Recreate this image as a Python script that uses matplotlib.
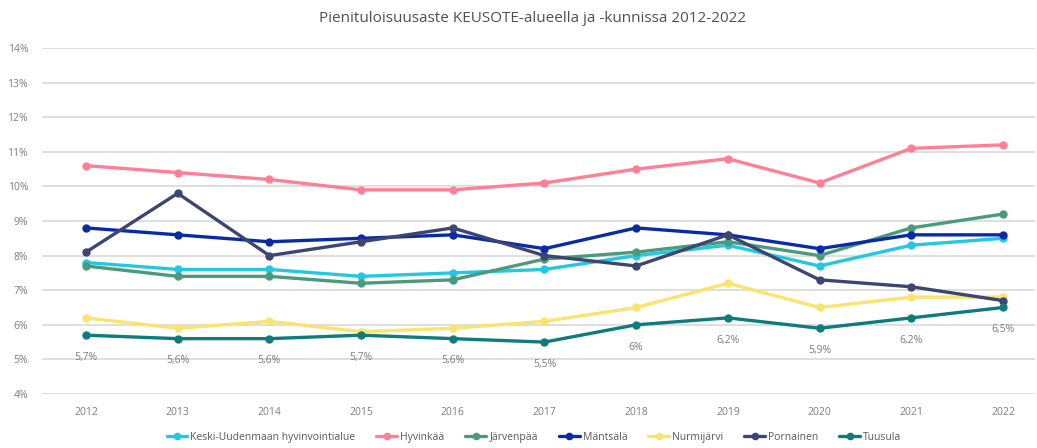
import matplotlib
matplotlib.use("Agg")
import matplotlib.pyplot as plt

years = [2012, 2013, 2014, 2015, 2016, 2017, 2018, 2019, 2020, 2021, 2022]
series_names = ["Keski-Uudenmaan hyvinvointialue", "Hyvinkää", "Järvenpää", "Mäntsälä",
                "Nurmijärvi", "Pornainen", "Tuusula"]
keski = [7.8, 7.6, 7.6, 7.4, 7.5, 7.6, 8.0, 8.3, 7.7, 8.3, 8.5]
hyvinkaa = [10.6, 10.4, 10.2, 9.9, 9.9, 10.1, 10.5, 10.8, 10.1, 11.1, 11.2]
jarvenpaa = [7.7, 7.4, 7.4, 7.2, 7.3, 7.9, 8.1, 8.4, 8.0, 8.8, 9.2]
mantsala = [8.8, 8.6, 8.4, 8.5, 8.6, 8.2, 8.8, 8.6, 8.2, 8.6, 8.6]
nurmijarvi = [6.2, 5.9, 6.1, 5.8, 5.9, 6.1, 6.5, 7.2, 6.5, 6.8, 6.8]
pornainen = [8.1, 9.8, 8.0, 8.4, 8.8, 8.0, 7.7, 8.6, 7.3, 7.1, 6.7]
tuusula = [5.7, 5.6, 5.6, 5.7, 5.6, 5.5, 6.0, 6.2, 5.9, 6.2, 6.5]
tuusula_labels = ["5,7%", "5,6%", "5,6%", "5,7%", "5,6%", "5,5%", "6%", "6,2%", "5,9%", "6,2%", "6,5%"]
y_ticks = [4, 5, 6, 7, 8, 9, 10, 11, 12, 13, 14]

colors = ["#22C8E2", "#FF7F97", "#4B9A7C", "#0A2BA6", "#F8E46E", "#3D4671", "#0E7C7C"]
data = [keski, hyvinkaa, jarvenpaa, mantsala, nurmijarvi, pornainen, tuusula]

plt.rcParams['font.family'] = ['Open Sans', 'DejaVu Sans']

fig = plt.figure(figsize=(10.37, 4.48), dpi=100)
ax = fig.add_axes([42/1037, 1-394/448, (1035-42)/1037, 346/448])

for name, vals, c in zip(series_names, data, colors):
    ax.plot(years, vals, color=c, lw=2.4, marker="o", ms=5, label=name,
            solid_capstyle="round")

for x, v, t in zip(years, tuusula, tuusula_labels):
    ax.annotate(t, (x, v), xytext=(0, -16), textcoords="offset points",
                ha="center", va="center", fontsize=7.5, color="#7F7F7F")

ax.set_ylim(4, 14)
ax.set_xlim(2011.52, 2022.35)
ax.set_yticks(y_ticks)
ax.set_yticklabels([f"{v}%" for v in y_ticks])
ax.set_xticks(years)
ax.set_xticklabels([str(y) for y in years])
ax.tick_params(axis="both", length=0, labelsize=7.5, labelcolor="#7F7F7F")
ax.tick_params(axis="y", pad=10)
ax.tick_params(axis="x", pad=9)
ax.grid(axis="y", color="#D9D9D9", lw=1.2)
ax.set_axisbelow(True)
for s in ax.spines.values():
    s.set_visible(False)

fig.text(533/1037, 1-18/448, "Pienituloisuusaste KEUSOTE-alueella ja -kunnissa 2012-2022",
         ha="center", va="center", fontsize=11, color="#505050", fontweight="medium")

fig.legend(loc="center", bbox_to_anchor=(534/1037, 1-437/448), ncol=7, frameon=False,
           fontsize=7.5, labelcolor="#595959", handlelength=2.0, columnspacing=2.0,
           handletextpad=0.3, markerscale=0.9)

fig.savefig("out.png", dpi=100)
